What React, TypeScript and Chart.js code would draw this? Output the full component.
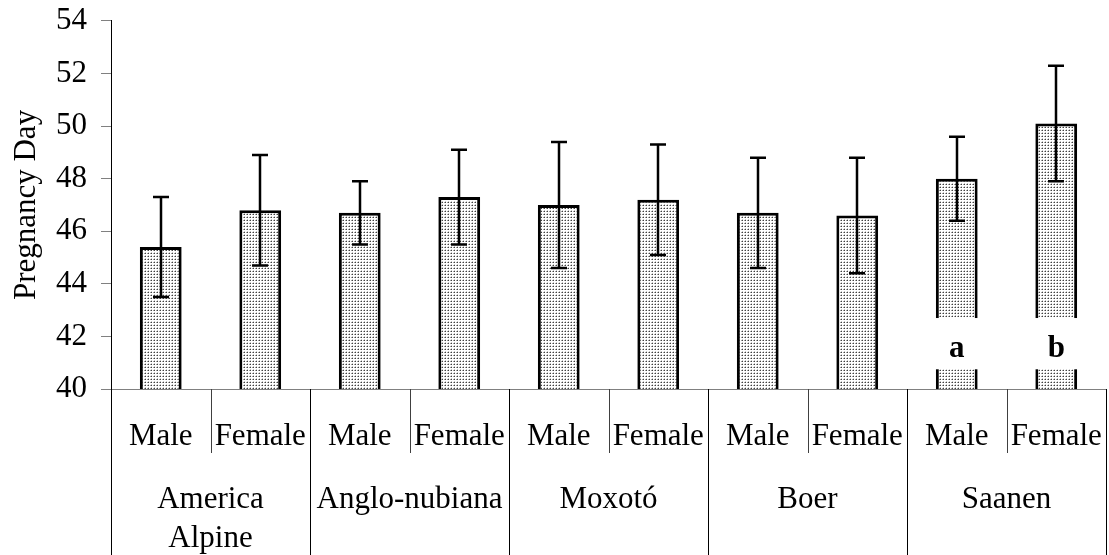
import React, { useEffect, useRef } from "react";
import { Chart, registerables } from "chart.js";

Chart.register(...registerables);

const groups = [["America", "Alpine"], ["Anglo-nubiana"], ["Moxotó"], ["Boer"], ["Saanen"]];
const sexes = ["Male", "Female"];
const categories = groups.flatMap((g) => sexes.map((s) => `${g.join(" ")} ${s}`));
const means = [45.4, 46.8, 46.7, 47.3, 47.0, 47.2, 46.7, 46.6, 48.0, 50.1];
const errLow = [43.5, 44.7, 45.5, 45.5, 44.6, 45.1, 44.6, 44.4, 46.4, 47.9];
const errHigh = [47.3, 48.9, 47.9, 49.1, 49.4, 49.3, 48.8, 48.8, 49.6, 52.3];
const sigLabels = ["", "", "", "", "", "", "", "", "a", "b"];
const sigBoxTop = 42.7;
const sigBoxBottom = 40.75;
const sigTextBase = 41.2;
const yMin = 40;
const yMax = 54;
const yStep = 2;

const FONT = "'Liberation Serif', 'Times New Roman', serif";
const FS = 31;

function makePattern(): CanvasPattern | string {
  const c = document.createElement("canvas");
  c.width = 3;
  c.height = 3;
  const g = c.getContext("2d");
  if (!g) return "#d0d0d0";
  g.fillStyle = "#ffffff";
  g.fillRect(0, 0, 3, 3);
  g.fillStyle = "#404040";
  g.fillRect(1, 1, 1, 1);
  g.fillStyle = "#a0a0a0";
  g.fillRect(0, 1, 1, 1);
  g.fillStyle = "#c8c8c8";
  g.fillRect(1, 0, 1, 1);
  const p = g.createPattern(c, "repeat");
  return p || "#d0d0d0";
}

const overlayPlugin = {
  id: "overlay",
  afterDatasetsDraw(chart: any) {
    const { ctx } = chart;
    const y = chart.scales.y;
    const meta = chart.getDatasetMeta(0);
    ctx.save();
    meta.data.forEach((bar: any, i: number) => {
      if (!sigLabels[i]) return;
      const w = bar.width;
      const top = y.getPixelForValue(sigBoxTop);
      const bot = y.getPixelForValue(sigBoxBottom);
      ctx.fillStyle = "#ffffff";
      ctx.fillRect(bar.x - w / 2 - 3, top, w + 6, bot - top);
      ctx.fillStyle = "#000000";
      ctx.font = `bold ${FS}px ${FONT}`;
      ctx.textAlign = "center";
      ctx.textBaseline = "alphabetic";
      ctx.fillText(sigLabels[i], bar.x, y.getPixelForValue(sigTextBase));
    });
    ctx.strokeStyle = "#000000";
    ctx.lineWidth = 2.5;
    meta.data.forEach((bar: any, i: number) => {
      const cx = Math.round(bar.x);
      const yl = y.getPixelForValue(errLow[i]);
      const yh = y.getPixelForValue(errHigh[i]);
      ctx.beginPath();
      ctx.moveTo(cx, yl);
      ctx.lineTo(cx, yh);
      ctx.moveTo(cx - 8, yl);
      ctx.lineTo(cx + 8, yl);
      ctx.moveTo(cx - 8, yh);
      ctx.lineTo(cx + 8, yh);
      ctx.stroke();
    });
    ctx.restore();
  },
  afterDraw(chart: any) {
    const { ctx, chartArea } = chart;
    const x = chart.scales.x;
    const n = categories.length;
    const bottom = chart.height;
    const axisY = chartArea.bottom;
    const step = x.getPixelForValue(1) - x.getPixelForValue(0);
    ctx.save();
    ctx.lineWidth = 1;
    for (let i = 0; i <= n; i++) {
      const bx = Math.round(x.getPixelForValue(i) - step / 2) + 0.5;
      const full = i % 2 === 0;
      ctx.strokeStyle = full ? "#000000" : "#404040";
      ctx.beginPath();
      ctx.moveTo(bx, axisY);
      ctx.lineTo(bx, full ? bottom : axisY + 64);
      ctx.stroke();
    }
    ctx.fillStyle = "#000000";
    ctx.textAlign = "center";
    ctx.textBaseline = "alphabetic";
    ctx.font = `${FS}px ${FONT}`;
    for (let i = 0; i < n; i++) {
      ctx.fillText(sexes[i % 2], x.getPixelForValue(i), axisY + 56);
    }
    groups.forEach((lines, gi) => {
      const cx = (x.getPixelForValue(gi * 2) + x.getPixelForValue(gi * 2 + 1)) / 2;
      lines.forEach((t, li) => {
        ctx.fillText(t, cx, axisY + 119 + li * 39);
      });
    });
    ctx.restore();
  },
};

export default function App() {
  const ref = useRef<HTMLCanvasElement | null>(null);
  useEffect(() => {
    if (!ref.current) return;
    const pattern = makePattern();
    const chart = new Chart(ref.current, {
      type: "bar",
      data: {
        labels: categories,
        datasets: [
          {
            data: means,
            backgroundColor: pattern as any,
            borderColor: "#000000",
            borderWidth: 3,
            borderSkipped: false,
            categoryPercentage: 1,
            barPercentage: 0.42,
          },
        ],
      },
      options: {
        animation: false,
        responsive: false,
        maintainAspectRatio: false,
        layout: { padding: { top: 0, right: 3, left: 0, bottom: 0 } },
        plugins: { legend: { display: false }, tooltip: { enabled: false } },
        scales: {
          x: {
            grid: { display: false },
            ticks: { display: false },
            border: { display: true, color: "#808080", width: 1 },
            afterFit: (s: any) => {
              s.height = 166;
            },
          },
          y: {
            min: yMin,
            max: yMax,
            ticks: {
              stepSize: yStep,
              color: "#000000",
              font: { family: FONT, size: FS, lineHeight: 0.45 },
              padding: 14,
            },
            grid: {
              display: true,
              drawOnChartArea: false,
              drawTicks: true,
              tickLength: 10,
              color: "#808080",
            },
            border: { display: true, color: "#000000", width: 1 },
            title: {
              display: true,
              text: "Pregnancy Day",
              color: "#000000",
              font: { family: FONT, size: FS },
              padding: { top: 8, bottom: 0 },
            },
            afterFit: (s: any) => {
              s.width = 111;
            },
          },
        },
      },
      plugins: [overlayPlugin],
    });
    return () => chart.destroy();
  }, []);
  return (
    <div style={{ position: "fixed", left: 0, top: 0, width: 1109, height: 555, background: "#fff" }}>
      <canvas ref={ref} width={1109} height={555} style={{ display: "block", width: 1109, height: 555 }} />
    </div>
  );
}
